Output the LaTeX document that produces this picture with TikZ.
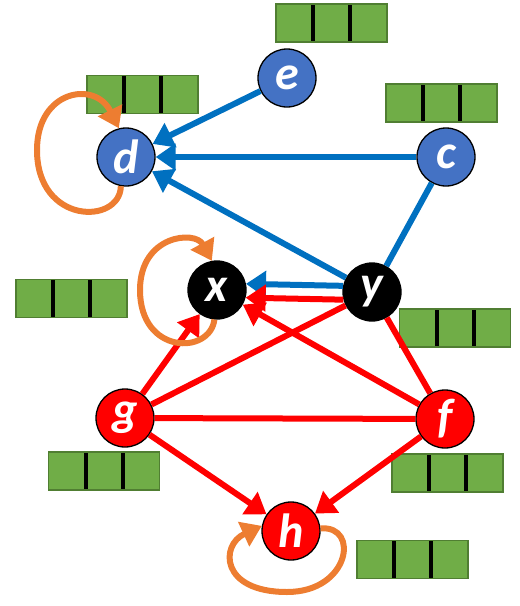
\documentclass[tikz,border=0pt]{standalone}
\usepackage{fontspec}
\setmainfont{Carlito}
\usepackage{tikz}
\usetikzlibrary{arrows.meta}

\definecolor{nodeblue}{HTML}{4472C4}
\definecolor{edgeblue}{HTML}{0070C0}
\definecolor{loopor}{HTML}{ED7D31}
\definecolor{barfill}{HTML}{70AD47}
\definecolor{barline}{HTML}{507E32}

\begin{document}
\begin{tikzpicture}[x=1pt,y=-1pt]
\tikzstyle{vertex}=[circle,draw=black,line width=1.3pt,minimum size=58pt,inner sep=0pt,text=white,font=\fontsize{48}{48}\selectfont\bfseries\itshape]
\tikzstyle{bar}=[rectangle,fill=barfill,draw=barline,line width=1.3pt,minimum width=111pt,minimum height=38pt,inner sep=0pt,
  path picture={\foreach \k in {1,2} \draw[black,line width=4pt] ([xshift=\k*37pt]path picture bounding box.north west) -- ([xshift=\k*37pt]path picture bounding box.south west);}]
\tikzstyle{arc}=[line width=6pt,-{Triangle[length=20pt,width=26pt]}]
\tikzstyle{selfloop}=[loopor,line width=6pt,-{Triangle[length=20pt,width=26pt]}]
\useasboundingbox (0,0) rectangle (520,606);
% bars
\foreach \name/\point in {
	be/{331.5,23},
	bd/{142.5,94.5},
	bc/{441.5,103},
	bx/{71.5,298.5},
	by/{455,328},
	bg/{104,471},
	bf/{447.5,473},
	bh/{412.5,559.5}}
	\node[bar] (\name) at (\point) {};
% vertices
\foreach \name/\point/\col in {
	e/{287,78}/nodeblue,
	d/{126,157}/nodeblue,
	c/{446,157}/nodeblue,
	x/{217,290}/black,
	y/{372,292}/black,
	g/{125,418}/red,
	f/{445,419}/red,
	h/{291,531}/red}
	\node[vertex,fill=\col] (\name) at (\point) {\name};
% blue edges
\draw[arc,edgeblue] (e) -- (d);
\draw[arc,edgeblue] (c) -- (d);
\draw[arc,edgeblue] (y) -- (d);
\draw[line width=6pt,edgeblue] (c) -- (y);
\draw[arc,edgeblue] (y.168) -- (x.12);
% red edges
\draw[arc,red] (y.195) -- (x.-15);
\draw[arc,red] (f) -- (x);
\draw[arc,red] (g) -- (x);
\draw[line width=6pt,red] (g) -- (y);
\draw[line width=6pt,red] (g) -- (f);
\draw[line width=6pt,red] (y) -- (f);
\draw[arc,red] (g) -- (h);
\draw[arc,red] (f) -- (h);
% self loops
\draw[selfloop] (d.-100) .. controls (120,225) and (37,225) .. (37,150) .. controls (37,90) and (95,80) .. (d.104);
\draw[selfloop] (x.-95) .. controls (210,355) and (140,355) .. (140,290) .. controls (140,235) and (195,230) .. (x.100);
\draw[selfloop] (h.5) .. controls (360,525) and (350,592) .. (287,592) .. controls (220,592) and (220,545) .. (h.170);
\end{tikzpicture}
\end{document}
